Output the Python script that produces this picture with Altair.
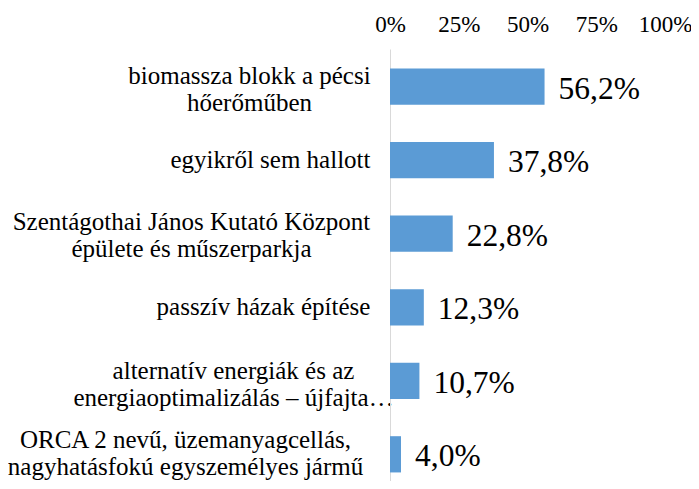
import altair as alt
import pandas as pd

categories = [
    "biomassza blokk a pécsi|hőerőműben",
    "egyikről sem hallott",
    "Szentágothai János Kutató Központ|épülete és műszerparkja",
    "passzív házak építése",
    "alternatív energiák és az|energiaoptimalizálás – újfajta…",
    "ORCA 2 nevű, üzemanyagcellás,|nagyhatásfokú egyszemélyes jármű",
]
values = [56.2, 37.8, 22.8, 12.3, 10.7, 4.0]
tick_values = [0, 25, 50, 75, 100]

# distance from axis to the centre of each (centred, multi-line) label
label_pad = {
    categories[0]: 141,
    categories[1]: 120,
    categories[2]: 199,
    categories[3]: 127,
    categories[4]: 157,
    categories[5]: 205,
}
# vertical shift of the first line of two-line labels
label_shift = {
    categories[0]: -11,
    categories[2]: -12,
    categories[4]: -10,
    categories[5]: -14,
}

df = pd.DataFrame({
    "cat": categories,
    "val": values,
    "txt": [f"{v:.1f}%".replace(".", ",") for v in values],
})

FONT = "'Liberation Serif', 'Times New Roman', Times, serif"

pad_cond = [
    {"test": f"datum.value === {c!r}", "value": p} for c, p in label_pad.items()
]
off_cond = [
    {"test": f"datum.value === {c!r}", "value": p} for c, p in label_shift.items()
]

y_enc = alt.Y(
    "cat:N",
    sort=categories,
    scale=alt.Scale(range=[0, 443], paddingInner=0.507, paddingOuter=0.266),
    axis=alt.Axis(
        title=None,
        ticks=False,
        domainColor="#d9d9d9",
        domainWidth=1,
        labelFont=FONT,
        labelFontSize=25,
        labelColor="#000000",
        labelAlign="center",
        labelBaseline="middle",
        labelLineHeight=27,
        labelLimit=0,
        labelOverlap=False,
        labelExpr="split(datum.label, '|')",
        labelPadding={"condition": pad_cond, "value": 120},
        labelOffset={"condition": off_cond, "value": 0},
    ),
)

x_enc = alt.X(
    "val:Q",
    scale=alt.Scale(domain=[0, 100], nice=False),
    axis=alt.Axis(
        orient="top",
        title=None,
        values=tick_values,
        grid=False,
        domain=False,
        ticks=False,
        tickSize=0,
        labelFont=FONT,
        labelFontSize=23,
        labelColor="#000000",
        labelBaseline="alphabetic",
        labelPadding=18,
        labelOverlap=False,
        labelFlush=False,
        labelExpr="datum.value + '%'",
    ),
)

bars = alt.Chart(df).mark_bar(color="#5B9BD5").encode(y=y_enc, x=x_enc)

texts = alt.Chart(df).mark_text(
    align="left", baseline="alphabetic", dx=14, dy=12,
    font=FONT, fontSize=31.5, color="#000000",
).encode(y=alt.Y("cat:N", sort=categories), x="val:Q", text="txt:N")

chart = (
    (bars + texts)
    .properties(
        width=275,
        height=432,
        autosize=alt.AutoSizeParams(type="none"),
        padding={"left": 382, "top": 41, "right": 26, "bottom": 0},
    )
    .configure_view(stroke=None)
)

chart.save("out.html", embed_options={"renderer": "svg", "actions": False})
